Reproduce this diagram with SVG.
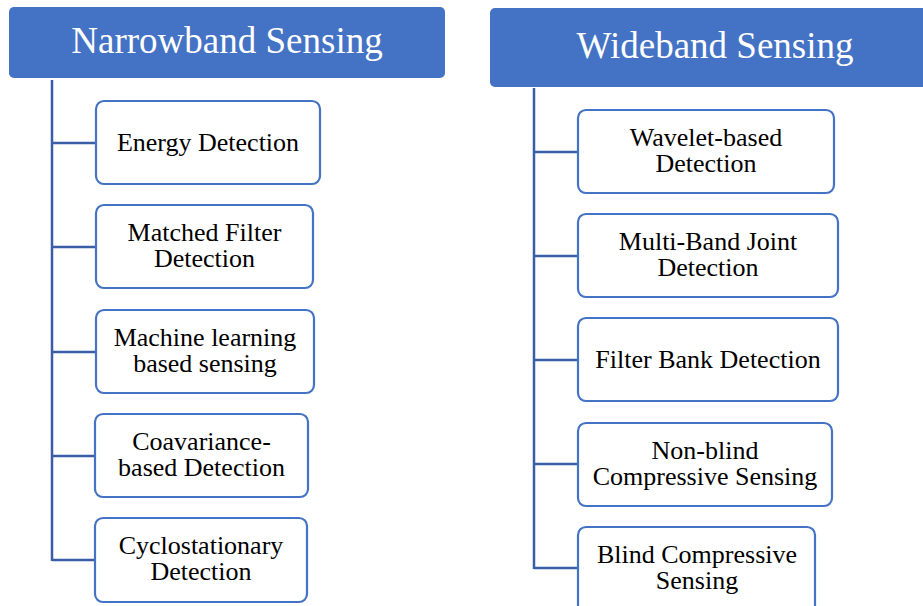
<svg xmlns="http://www.w3.org/2000/svg" width="923" height="606" viewBox="0 0 923 606">
<style>
.hdr{fill:#4472C4;}
.hdrt{font-family:"Liberation Serif",serif;font-size:37px;fill:#ffffff;text-anchor:middle;}
.box{fill:#ffffff;stroke:#4472C4;stroke-width:2.2;}
.bt{font-family:"Liberation Serif",serif;font-size:26px;fill:#000000;text-anchor:middle;}
.ln{stroke:#3A5DA5;stroke-width:2.5;fill:none;}
</style>
<rect width="923" height="606" fill="#ffffff"/>
<g id="connectors">
<path class="ln" d="M52,80 V561 M52,143 H96 M52,247 H96 M52,352 H96 M52,456 H95 M52,560 H95"/>
<path class="ln" d="M534,88 V569 M534,152 H578 M534,256 H578 M534,360 H578 M534,464 H578 M534,568 H578"/>
</g>
<g id="narrowband">
<rect class="hdr" x="9" y="7" width="436" height="71" rx="5"/>
<text class="hdrt" x="227" y="53">Narrowband Sensing</text>
</g>
<g id="wideband">
<rect class="hdr" x="490" y="8" width="445" height="79" rx="5"/>
<text class="hdrt" x="715" y="58">Wideband Sensing</text>
</g>
<g id="energy">
<rect class="box" x="96" y="101" width="224" height="83" rx="8"/>
<text class="bt" x="208" y="151">Energy Detection</text>
</g>
<g id="matched">
<rect class="box" x="96" y="205" width="217" height="83" rx="8"/>
<text class="bt" x="204.5" y="241">Matched Filter</text>
<text class="bt" x="204.5" y="267">Detection</text>
</g>
<g id="ml">
<rect class="box" x="96" y="310" width="218" height="83" rx="8"/>
<text class="bt" x="205" y="346">Machine learning</text>
<text class="bt" x="205" y="372">based sensing</text>
</g>
<g id="covariance">
<rect class="box" x="95" y="414" width="213" height="83" rx="8"/>
<text class="bt" x="201.5" y="450">Coavariance-</text>
<text class="bt" x="201.5" y="476">based Detection</text>
</g>
<g id="cyclo">
<rect class="box" x="95" y="518" width="212" height="84" rx="8"/>
<text class="bt" x="201" y="554">Cyclostationary</text>
<text class="bt" x="201" y="580">Detection</text>
</g>
<g id="wavelet">
<rect class="box" x="578" y="110" width="256" height="83" rx="8"/>
<text class="bt" x="706" y="146">Wavelet-based</text>
<text class="bt" x="706" y="172">Detection</text>
</g>
<g id="multiband">
<rect class="box" x="578" y="214" width="260" height="83" rx="8"/>
<text class="bt" x="708" y="250">Multi-Band Joint</text>
<text class="bt" x="708" y="276">Detection</text>
</g>
<g id="filterbank">
<rect class="box" x="578" y="318" width="260" height="83" rx="8"/>
<text class="bt" x="708" y="368">Filter Bank Detection</text>
</g>
<g id="nonblind">
<rect class="box" x="578" y="423" width="254" height="83" rx="8"/>
<text class="bt" x="705" y="459">Non-blind</text>
<text class="bt" x="705" y="485">Compressive Sensing</text>
</g>
<g id="blind">
<rect class="box" x="578" y="527" width="237" height="90" rx="8"/>
<text class="bt" x="697" y="563">Blind Compressive</text>
<text class="bt" x="697" y="589">Sensing</text>
</g>
</svg>
